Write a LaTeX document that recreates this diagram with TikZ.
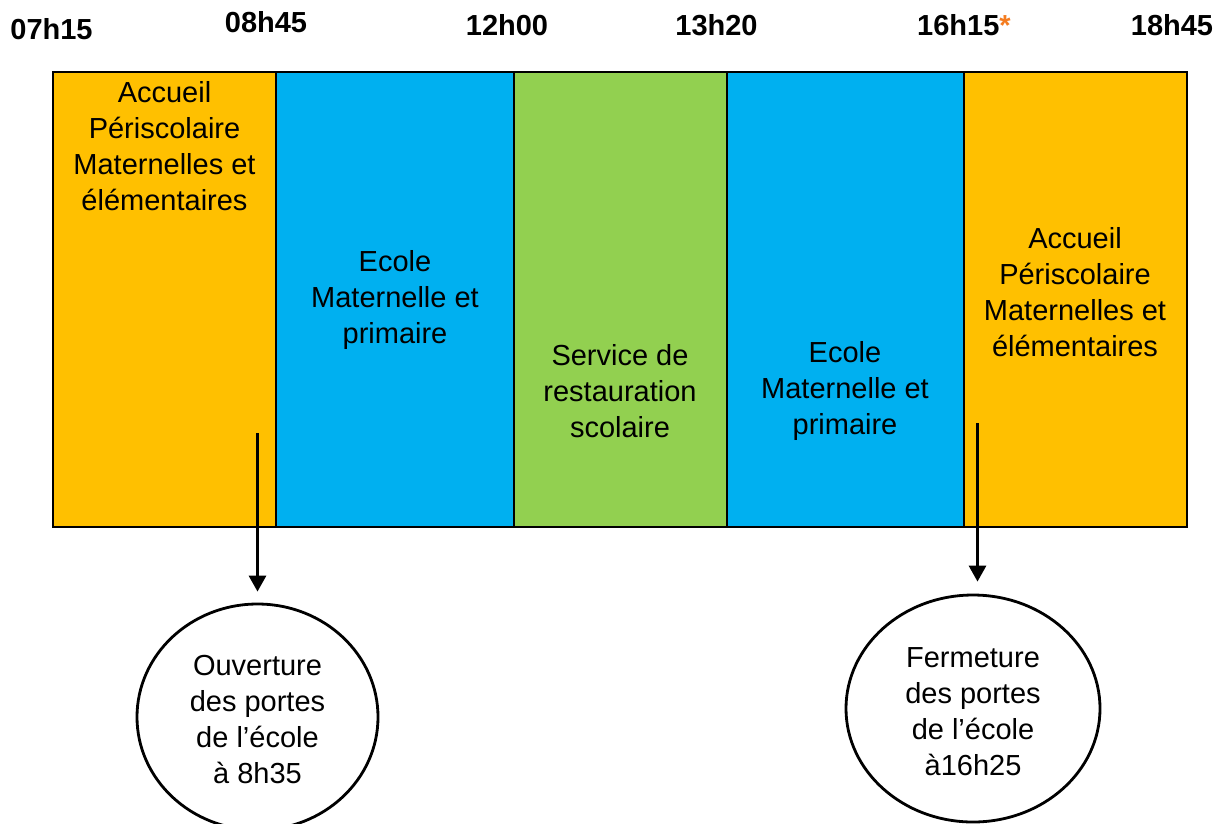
\documentclass[tikz,border=0pt]{standalone}
\usepackage{fontspec}
\setmainfont{Liberation Sans}
\usetikzlibrary{shapes.geometric,arrows.meta}
\definecolor{peri}{HTML}{FFC000}
\definecolor{ecole}{HTML}{00B0F0}
\definecolor{resto}{HTML}{92D050}
\definecolor{star}{HTML}{F47C20}
\tikzset{
  col/.style={draw=black, line width=1.6pt},
  txt/.style={align=center, font=\fontsize{29}{36}\selectfont, inner sep=0pt},
  time/.style={font=\fontsize{29}{34}\selectfont\bfseries, inner sep=0pt},
  bubble/.style={ellipse, draw=black, line width=2.8pt, fill=white, inner sep=0pt,
    align=center, font=\fontsize{29}{36}\selectfont},
  arr/.style={line width=3pt, -{Triangle[width=17pt,length=16pt]}, shorten >=11pt}
}
\begin{document}
\begin{tikzpicture}[x=1pt,y=-1pt]
\useasboundingbox (0,0) rectangle (1214,823);
% columns
\fill[peri]  (53,72) rectangle (276,527);
\fill[ecole] (276,72) rectangle (514,527);
\fill[resto] (514,72) rectangle (727,527);
\fill[ecole] (727,72) rectangle (964,527);
\fill[peri]  (964,72) rectangle (1187,527);
\draw[col] (276,72) -- (276,527);
\draw[col] (514,72) -- (514,527);
\draw[col] (727,72) -- (727,527);
\draw[col] (964,72) -- (964,527);
\draw[line width=2.2pt] (53,72) rectangle (1187,527);
% column texts
\node[txt] (t1) at (164.5,146) {Accueil\\Périscolaire\\Maternelles et\\élémentaires};
\node[txt] (t2) at (395,300) {Ecole\\Maternelle et\\primaire};
\node[txt] (t3) at (620,391) {Service de\\restauration\\scolaire};
\node[txt] (t4) at (845,391) {Ecole\\Maternelle et\\primaire};
\node[txt] (t5) at (1075,292) {Accueil\\Périscolaire\\Maternelles et\\élémentaires};
% time labels
\node[time] (h1) at (51.5,29) {07h15};
\node[time] (h2) at (266,22.5) {08h45};
\node[time] (h3) at (507,25) {12h00};
\node[time] (h4) at (716.5,25) {13h20};
\node[time,anchor=west] (h5) at (917,25) {16h15\textcolor{star}{*}};
\node[time] (h6) at (1172,25) {18h45};
% bubbles
\node[bubble, minimum width=241pt, minimum height=226pt] (c1) at (257.5,717) {};
\node[txt] (c1t) at (257.5,719) {Ouverture\\des portes\\de l’école\\à 8h35};
\node[bubble, minimum width=254pt, minimum height=227pt] (c2) at (973,708.5) {};
\node[txt] (c2t) at (973,711.5) {Fermeture\\des portes\\de l’école\\à16h25};
% arrows
\coordinate (s1) at (257.5,433);
\coordinate (s2) at (977.5,423);
\draw[arr] (s1) -- (c1.north);
\draw[arr, shorten >=12pt] (s2) -- (s2 |- c2.north);
\end{tikzpicture}
\end{document}
